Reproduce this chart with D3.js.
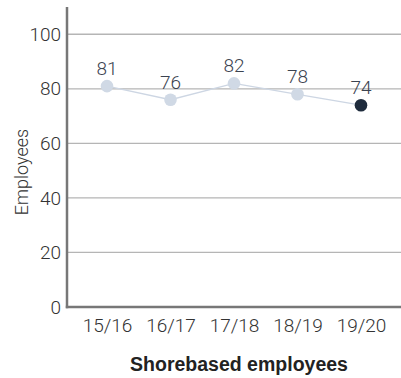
<!DOCTYPE html>
<html>
<head>
<meta charset="utf-8">
<script src="https://cdn.jsdelivr.net/npm/d3@7"></script>
<style>
  html, body { margin: 0; padding: 0; background: #fff; }
  svg { display: block; font-family: Roboto, "Liberation Sans", Arial, sans-serif; }
  .light { font-family: Roboto, "Liberation Sans", Arial, sans-serif; font-weight: 300; }
  .bold { font-family: "Liberation Sans", Arial, sans-serif; font-weight: bold; }
</style>
</head>
<body>
<svg id="chart" width="401" height="378"></svg>
<script>
// Shorebased employees per financial year
const years = ["15/16", "16/17", "17/18", "18/19", "19/20"];
const employees = [81, 76, 82, 78, 74];
const yTicks = [0, 20, 40, 60, 80, 100];

const svg = d3.select("#chart");
const plotLeft = 67, plotRight = 401, plotTop = 7, plotBottom = 307;

const x = d3.scalePoint().domain(years).range([plotLeft, plotRight]).padding(0.63);
const y = d3.scaleLinear().domain([0, 110]).range([plotBottom, plotTop]);

// horizontal gridlines
svg.append("g")
  .selectAll("line")
  .data(yTicks.filter(d => d > 0))
  .join("line")
  .attr("x1", plotLeft).attr("x2", plotRight)
  .attr("y1", d => y(d)).attr("y2", d => y(d))
  .attr("stroke", "#b5b5b5")
  .attr("stroke-width", 1.3);

// y axis
const yAxis = svg.append("g")
  .attr("transform", `translate(${plotLeft},0)`)
  .call(d3.axisLeft(y).tickValues(yTicks).tickSize(0).tickPadding(6));
yAxis.select(".domain").remove();
yAxis.selectAll("text")
  .attr("class", "light")
  .attr("font-size", 19)
  .attr("fill", "#333");

// x axis
const xAxis = svg.append("g")
  .attr("transform", `translate(0,${plotBottom})`)
  .call(d3.axisBottom(x).tickSize(0).tickPadding(12));
xAxis.select(".domain").remove();
xAxis.selectAll("text")
  .attr("class", "light")
  .attr("font-size", 19)
  .attr("fill", "#333");

// axis lines
svg.append("line")
  .attr("x1", plotLeft).attr("x2", plotLeft)
  .attr("y1", plotTop).attr("y2", plotBottom + 1.2)
  .attr("stroke", "#777").attr("stroke-width", 2.5);
svg.append("line")
  .attr("x1", plotLeft - 1.2).attr("x2", plotRight)
  .attr("y1", plotBottom).attr("y2", plotBottom)
  .attr("stroke", "#777").attr("stroke-width", 2.5);

// connecting line
const pts = years.map((yr, i) => ({ yr, v: employees[i] }));
svg.append("path")
  .datum(pts)
  .attr("fill", "none")
  .attr("stroke", "#cdd6e3")
  .attr("stroke-width", 1.3)
  .attr("d", d3.line().x(d => x(d.yr)).y(d => y(d.v)));

// points, latest year highlighted
svg.append("g")
  .selectAll("circle")
  .data(pts)
  .join("circle")
  .attr("cx", d => x(d.yr))
  .attr("cy", d => y(d.v))
  .attr("r", 6.3)
  .attr("fill", (d, i) => i === pts.length - 1 ? "#1e2b3c" : "#d0d9e5");

// value labels
svg.append("g")
  .selectAll("text")
  .data(pts)
  .join("text")
  .attr("class", "light")
  .attr("x", d => x(d.yr))
  .attr("y", d => y(d.v) - 11)
  .attr("text-anchor", "middle")
  .attr("font-size", 19)
  .attr("fill", "#3b4350")
  .text(d => d.v);

// axis titles
svg.append("text")
  .attr("class", "light")
  .attr("transform", `translate(28,172) rotate(-90)`)
  .attr("text-anchor", "middle")
  .attr("font-size", 18)
  .attr("fill", "#333")
  .text("Employees");

svg.append("text")
  .attr("class", "bold")
  .attr("x", 239)
  .attr("y", 371)
  .attr("text-anchor", "middle")
  .attr("font-size", 19.5)
  .attr("fill", "#222")
  .text("Shorebased employees");
</script>
</body>
</html>
